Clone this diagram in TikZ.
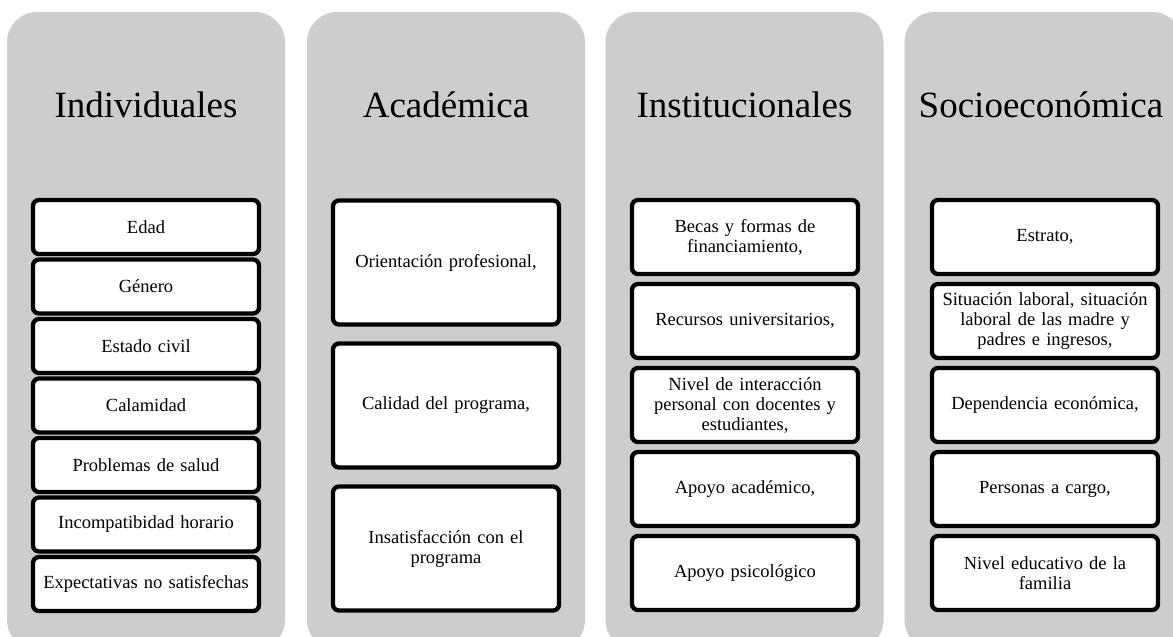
\documentclass[tikz,border=0pt]{standalone}
\usepackage{fontspec}
\setmainfont{Liberation Serif}
\usetikzlibrary{positioning}
\definecolor{colgrey}{RGB}{205,205,205}
\tikzset{
  column/.style={fill=colgrey, rounded corners=30pt, minimum width=278pt, minimum height=638pt, inner sep=0pt},
  title/.style={font=\fontsize{37}{42}\selectfont, anchor=base},
  item/.style={draw, line width=4.3pt, rounded corners=6pt, fill=white, minimum width=226pt, minimum height=#1, text width=218pt, align=center, inner sep=0pt, font=\fontsize{18.5}{20}\selectfont},
}
\begin{document}
\begin{tikzpicture}[x=1pt, y=-1pt]
\useasboundingbox (0,0) rectangle (1173,637);
\node (c1) [column] at (146,331) {};
\node (c2) [column] at (446,331) {};
\node (c3) [column] at (744.5,331) {};
\node (c4) [column] at (1043.5,331) {};
\node (t1) [title] at (146,117) {Individuales};
\node (t2) [title] at (446,117) {Académica};
\node (t3) [title] at (744.5,117) {Institucionales};
\node (t4) [title] at (1041,117) {Socioeconómica};
% individuales
\begin{scope}[node distance=59.5pt]
\node (edad) [item=54pt] at (146,227) {Edad};
\node (gen)  [item=54pt, below of=edad] {Género};
\node (civ)  [item=54pt, below of=gen] {Estado civil};
\node (cal)  [item=54pt, below of=civ] {Calamidad};
\node (sal)  [item=54pt, below of=cal] {Problemas de salud};
\node (hor)  [item=54pt, below of=sal] {Incompatibidad horario};
\node (exp)  [item=54pt, below of=hor] {Expectativas no satisfechas};
\end{scope}
% academica
\begin{scope}[node distance=143pt]
\node (ori) [item=124pt] at (446,262.5) {Orientación profesional,};
\node (cald) [item=124pt, below of=ori] {Calidad del programa,};
\node (ins) [item=124pt, below of=cald] {Insatisfacción con el\\programa};
\end{scope}
% institucionales
\begin{scope}[node distance=84pt]
\node (bec) [item=74pt] at (745,237) {Becas y formas de\\financiamiento,};
\node (rec) [item=74pt, below of=bec] {Recursos universitarios,};
\node (niv) [item=74pt, below of=rec] {Nivel de interacción\\personal con docentes y\\estudiantes,};
\node (aca) [item=74pt, below of=niv] {Apoyo académico,};
\node (psi) [item=74pt, below of=aca] {Apoyo psicológico};
\end{scope}
% socioeconomica
\begin{scope}[node distance=84pt]
\node (est) [item=74pt] at (1045,237) {Estrato,};
\node (lab) [item=74pt, below of=est] {Situación laboral, situación\\laboral de las madre y\\padres e ingresos,};
\node (dep) [item=74pt, below of=lab] {Dependencia económica,};
\node (per) [item=74pt, below of=dep] {Personas a cargo,};
\node (fam) [item=74pt, below of=per] {Nivel educativo de la\\familia};
\end{scope}
\end{tikzpicture}
\end{document}
